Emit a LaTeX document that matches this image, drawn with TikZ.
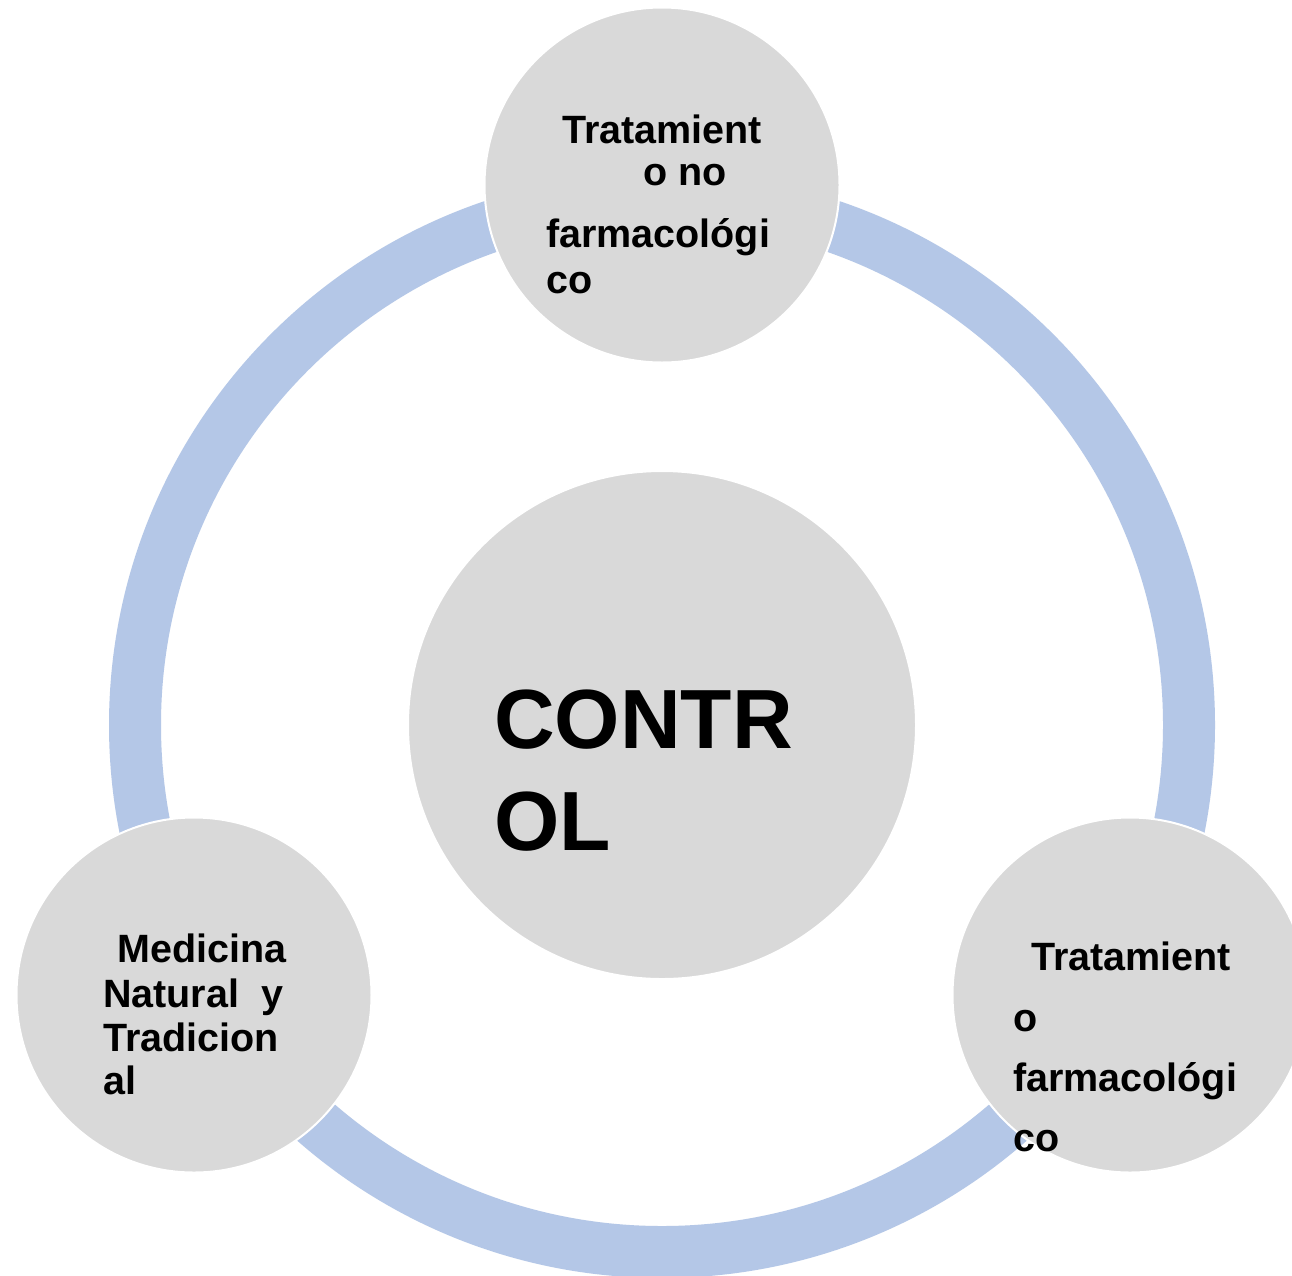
\documentclass[tikz,border=0pt]{standalone}
\usepackage{fontspec}
\setmainfont{Liberation Sans}
\definecolor{ringblue}{HTML}{B4C7E7}
\definecolor{bubble}{HTML}{D9D9D9}
\begin{document}
\begin{tikzpicture}[x=1pt,y=-1pt,
  bubblestyle/.style={circle,fill=bubble,draw=white,line width=2pt,inner sep=0pt,minimum size=#1},
  small/.style={anchor=base west,inner sep=0pt,font=\fontsize{39.5}{44}\selectfont\bfseries},
  big/.style={anchor=base west,inner sep=0pt,font=\fontsize{84}{96}\selectfont\bfseries}]
\useasboundingbox (0,0) rectangle (1292,1275);
\clip (0,0) rectangle (1292,1275);
\fill[white] (0,0) rectangle (1292,1275);
% ring
\node[circle,draw=ringblue,line width=52pt,minimum size=1054pt,inner sep=0pt] (ring) at (662,725) {};
% bubbles
\node[bubblestyle=508pt] (center) at (662,725) {};
\node[bubblestyle=355pt] (top) at (662,185) {};
\node[bubblestyle=355pt] (left) at (194,995) {};
\node[bubblestyle=355pt] (right) at (1130,995) {};
% texts
\node[big] (c1) at (494,748) {CONTR};
\node[big] (c2) at (494,850) {OL};
\node[small] (t1) at (562,143) {Tratamient};
\node[small] (t2) at (643,185) {o no};
\node[small] (t3) at (546,247) {farmacológi};
\node[small] (t4) at (546,293) {co};
\node[small] (l1) at (117,962) {Medicina};
\node[small] (l2) at (103,1007) {Natural\ \ y};
\node[small] (l3) at (103,1051) {Tradicion};
\node[small] (l4) at (103,1094) {al};
\node[small] (r1) at (1031,970) {Tratamient};
\node[small] (r2) at (1013,1031) {o};
\node[small] (r3) at (1013,1091) {farmacológi};
\node[small] (r4) at (1013,1151) {co};
\end{tikzpicture}
\end{document}
